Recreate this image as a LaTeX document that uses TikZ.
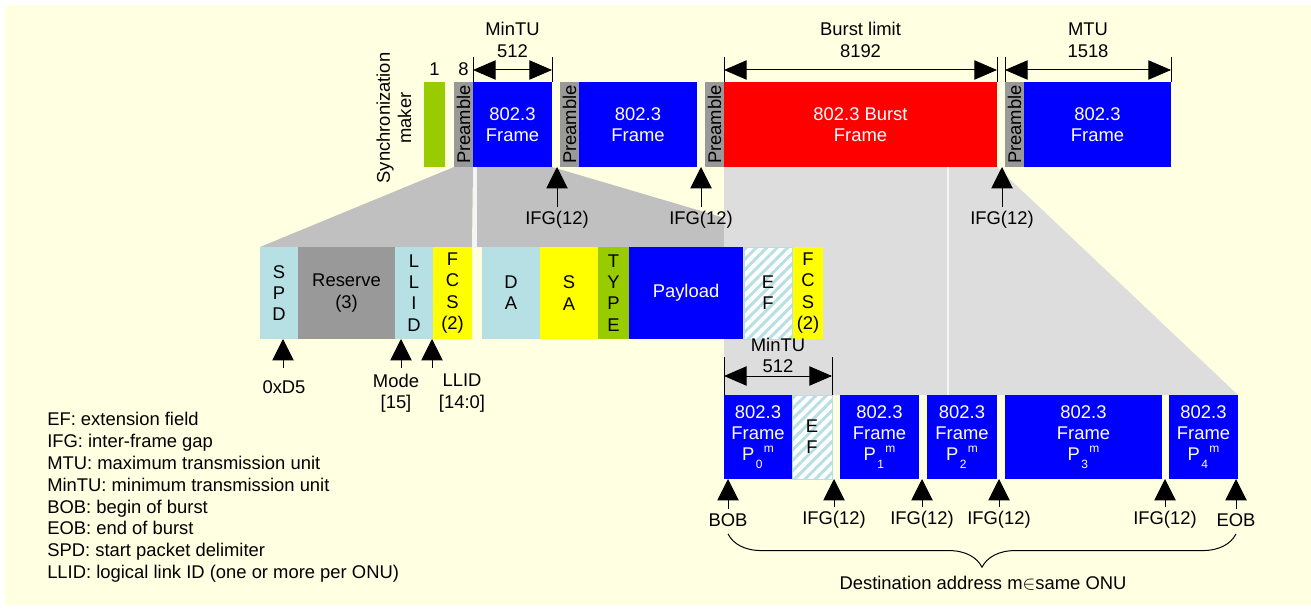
\documentclass[tikz,border=0pt]{standalone}
\usepackage{fontspec}
\setmainfont{Liberation Sans}
\usepackage{graphicx}
\usepackage{tikz}
\usetikzlibrary{arrows.meta,positioning,calc,backgrounds,patterns.meta,decorations.pathreplacing}

\definecolor{bgcream}{RGB}{255,255,225}
\definecolor{ethblue}{RGB}{0,0,255}
\definecolor{burstred}{RGB}{255,0,0}
\definecolor{markgreen}{RGB}{153,204,0}
\definecolor{pregray}{RGB}{153,153,153}
\definecolor{fieldblue}{RGB}{183,224,228}
\definecolor{fcsyellow}{RGB}{255,255,0}
\definecolor{zoomdark}{RGB}{192,192,192}
\definecolor{zoomlight}{RGB}{221,221,221}

\newcommand{\pidx}[1]{P\hspace{1pt}\rlap{\raisebox{-6pt}{\fontsize{9pt}{9pt}\selectfont #1}}\hspace{6pt}\raisebox{6pt}{\fontsize{9pt}{9pt}\selectfont m}}

\begin{document}
\begin{tikzpicture}[
    x=0.75pt, y=-0.75pt,
    every node/.style={font=\fontsize{13.8pt}{16pt}\selectfont},
    fld/.style n args={4}{inner sep=0pt, outer sep=0pt, align=center,
        minimum width={(#2-#1)*0.75pt}, minimum height={(#4-#3)*0.75pt},
        at={({(#1+#2)/2},{(#3+#4)/2})}},
    greenbox/.style={fill=markgreen},
    prebox/.style={fill=pregray},
    ethbox/.style={fill=ethblue, text=white},
    burstbox/.style={fill=burstred, text=white},
    lbbox/.style={fill=fieldblue},
    ylbox/.style={fill=fcsyellow},
    efbox/.style={draw=fieldblue, line width=0.75pt, preaction={fill=white},
        pattern={Lines[angle=45,distance=5.5pt,line width=2.2pt]}, pattern color=fieldblue},
    dimtick/.style={line width=0.75pt},
    dimarrow/.style={arrows={Triangle[length=17pt,width=14.5pt]-Triangle[length=17pt,width=14.5pt]}, line width=0.75pt},
    uparrow/.style={arrows={-Triangle[length=16pt,width=16pt]}, line width=0.75pt},
    dimlbl/.style={align=center, inner sep=0pt},
    sepline/.style={draw=white!70!zoomlight, line width=1.2pt},
    brc/.style={decorate, decoration={brace, mirror, amplitude=25pt}, line width=0.75pt}
]
\useasboundingbox (0,0) rectangle (1311,610);

\node[fld={424}{445}{82}{167}, greenbox] (sync) {};
\node[fld={454}{473}{82}{167}, prebox] (pre1) {\rotatebox{90}{Preamble}};
\node[fld={473}{552}{82}{167}, ethbox] (fr1) {802.3\\Frame};
\node[fld={560}{579}{82}{167}, prebox] (pre2) {\rotatebox{90}{Preamble}};
\node[fld={579}{697}{82}{167}, ethbox] (fr2) {802.3\\Frame};
\node[fld={705}{724}{82}{167}, prebox] (pre3) {\rotatebox{90}{Preamble}};
\node[fld={724}{997}{82}{167}, burstbox] (burst) {802.3 Burst\\Frame};
\node[fld={1005}{1024}{82}{167}, prebox] (pre4) {\rotatebox{90}{Preamble}};
\node[fld={1024}{1171}{82}{167}, ethbox] (fr4) {802.3\\Frame};

\node[rotate=90, align=center] (synclbl) at (394,118) {Synchronization\\maker};
\node[above=1.5pt of sync] (len1) {1};
\node[above=1.5pt of pre1] (len8) {8};

\draw[dimtick] (fr1.north west) -- ++(0,-25);
\draw[dimtick] (fr1.north east) -- ++(0,-25);
\draw[dimarrow] ([yshift=9pt]fr1.north west) -- node[dimlbl, above=9pt] (mintua) {MinTU\\512} ([yshift=9pt]fr1.north east);
\draw[dimtick] (burst.north west) -- ++(0,-25);
\draw[dimtick] (burst.north east) -- ++(0,-25);
\draw[dimarrow] ([yshift=9pt]burst.north west) -- node[dimlbl, above=9pt] (burstlim) {Burst limit\\8192} ([yshift=9pt]burst.north east);
\draw[dimtick] (pre4.north west) -- ++(0,-25);
\draw[dimtick] (fr4.north east) -- ++(0,-25);
\draw[dimarrow] ([yshift=9pt]pre4.north west) -- node[dimlbl, above=9pt] (mtu) {MTU\\1518} ([yshift=9pt]fr4.north east);

\node (ifga) at (557,220) {IFG(12)};
\node (ifgb) at (701,220) {IFG(12)};
\node (ifgc) at (1002,220) {IFG(12)};
\draw[uparrow] (ifga.north) -- (ifga.north |- fr1.south);
\draw[uparrow] (ifgb.north) -- (ifgb.north |- fr2.south);
\draw[uparrow] (ifgc.north) -- (ifgc.north |- burst.south);

\node[fld={260}{298}{247}{339}, lbbox] (spd) {S\\P\\D};
\node[fld={298}{395}{247}{339}, prebox] (rsv) {Reserve\\(3)};
\node[fld={395}{433}{247}{339}, lbbox] (llid) {L\\L\\I\\D};
\node[fld={433}{472}{247}{339}, ylbox] (fcsa) {F\\C\\S\\(2)};
\node[fld={482}{540}{247}{339}, lbbox] (da) {D\\A};
\node[fld={540}{598}{247}{339}, ylbox] (sa) {S\\A};
\node[fld={598}{629}{247}{339}, greenbox] (type) {T\\Y\\P\\E};
\node[fld={629}{743}{247}{339}, ethbox] (pay) {Payload};
\node[fld={744}{792}{247}{339}, efbox] (efa) {E\\F};
\node[fld={793}{823}{247}{339}, ylbox] (fcsb) {F\\C\\S\\(2)};

\node (spdlbl) at (284,387) {0xD5};
\node[align=center] (modelbl) at (396,393) {Mode\\{[15]}};
\node[align=center] (llidlbl) at (462,393) {LLID\\{[14:0]}};
\coordinate (spdt) at (283,368);
\coordinate (modet) at (401,368);
\coordinate (llidt) at (432,368);
\draw[uparrow] (spdt) -- (spdt |- spd.south);
\draw[uparrow] (modet) -- (modet |- llid.south);
\draw[uparrow] (llidt) -- (llidt |- llid.south);

\node[fld={724}{792}{395}{479}, ethbox] (p0) {802.3\\Frame\\\pidx{0}};
\node[fld={792}{832}{395}{479}, efbox] (efb) {E\\F};
\node[fld={840}{919}{395}{479}, ethbox] (p1) {802.3\\Frame\\\pidx{1}};
\node[fld={927}{997}{395}{479}, ethbox] (p2) {802.3\\Frame\\\pidx{2}};
\node[fld={1005}{1162}{395}{479}, ethbox] (p3) {802.3\\Frame\\\pidx{3}};
\node[fld={1169}{1238}{395}{479}, ethbox] (p4) {802.3\\Frame\\\pidx{4}};

\draw[dimtick] (p0.north west) -- ++(0,-38);
\draw[dimtick] (efb.north east) -- ++(0,-38);
\draw[dimarrow] ([yshift=14.25pt]p0.north west) -- node[dimlbl, above=2pt] (mintub) {MinTU\\512} ([yshift=14.25pt]efb.north east);

\node (bob) at (728,520) {BOB};
\node (ifgd) at (834,520) {IFG(12)};
\node (ifge) at (922,520) {IFG(12)};
\node (ifgf) at (999,520) {IFG(12)};
\node (ifgg) at (1165,520) {IFG(12)};
\node (eob) at (1236,520) {EOB};
\draw[uparrow] (bob.north) -- (bob.north |- p0.south);
\draw[uparrow] (ifgd.north) -- (ifgd.north |- efb.south);
\draw[uparrow] (ifge.north) -- (ifge.north |- p1.south);
\draw[uparrow] (ifgf.north) -- (ifgf.north |- p2.south);
\draw[uparrow] (ifgg.north) -- (ifgg.north |- p3.south);
\draw[uparrow] (eob.north) -- (eob.north |- p4.south);

\draw[brc] ([yshift=-2pt]bob.south) -- ([yshift=-2pt]eob.south);
\node (dest) at (983,583) {Destination address m$\in$same ONU};

\node[anchor=north west, align=left, inner sep=0pt, font=\fontsize{13.8pt}{16.4pt}\selectfont] (legend) at (47,412)
  {EF: extension field\\IFG: inter-frame gap\\MTU: maximum transmission unit\\MinTU: minimum transmission unit\\BOB: begin of burst\\EOB: end of burst\\SPD: start packet delimiter\\LLID: logical link ID (one or more per ONU)};

\begin{scope}[on background layer]
\fill[bgcream] (5,5) rectangle (1311,605);
\fill[zoomdark] (pre1.south west) -- (pre1.south east) -- (fcsa.north east) -- (spd.north west) -- cycle;
\fill[zoomdark] (fr1.south west) -- (fr1.south east) -- (fcsb.north east) -- (fr1.south west |- da.north) -- cycle;
\fill[zoomlight] (burst.south west) -- (burst.south east) -- (p4.north east) -- (p0.north west) -- cycle;
\draw[sepline, line width=3pt] ([xshift=1.5pt]fr1.south west) -- ([xshift=1.5pt]fr1.south west |- da.north);
\draw[sepline] (948,167) -- (948,395);
\end{scope}
\end{tikzpicture}
\end{document}
